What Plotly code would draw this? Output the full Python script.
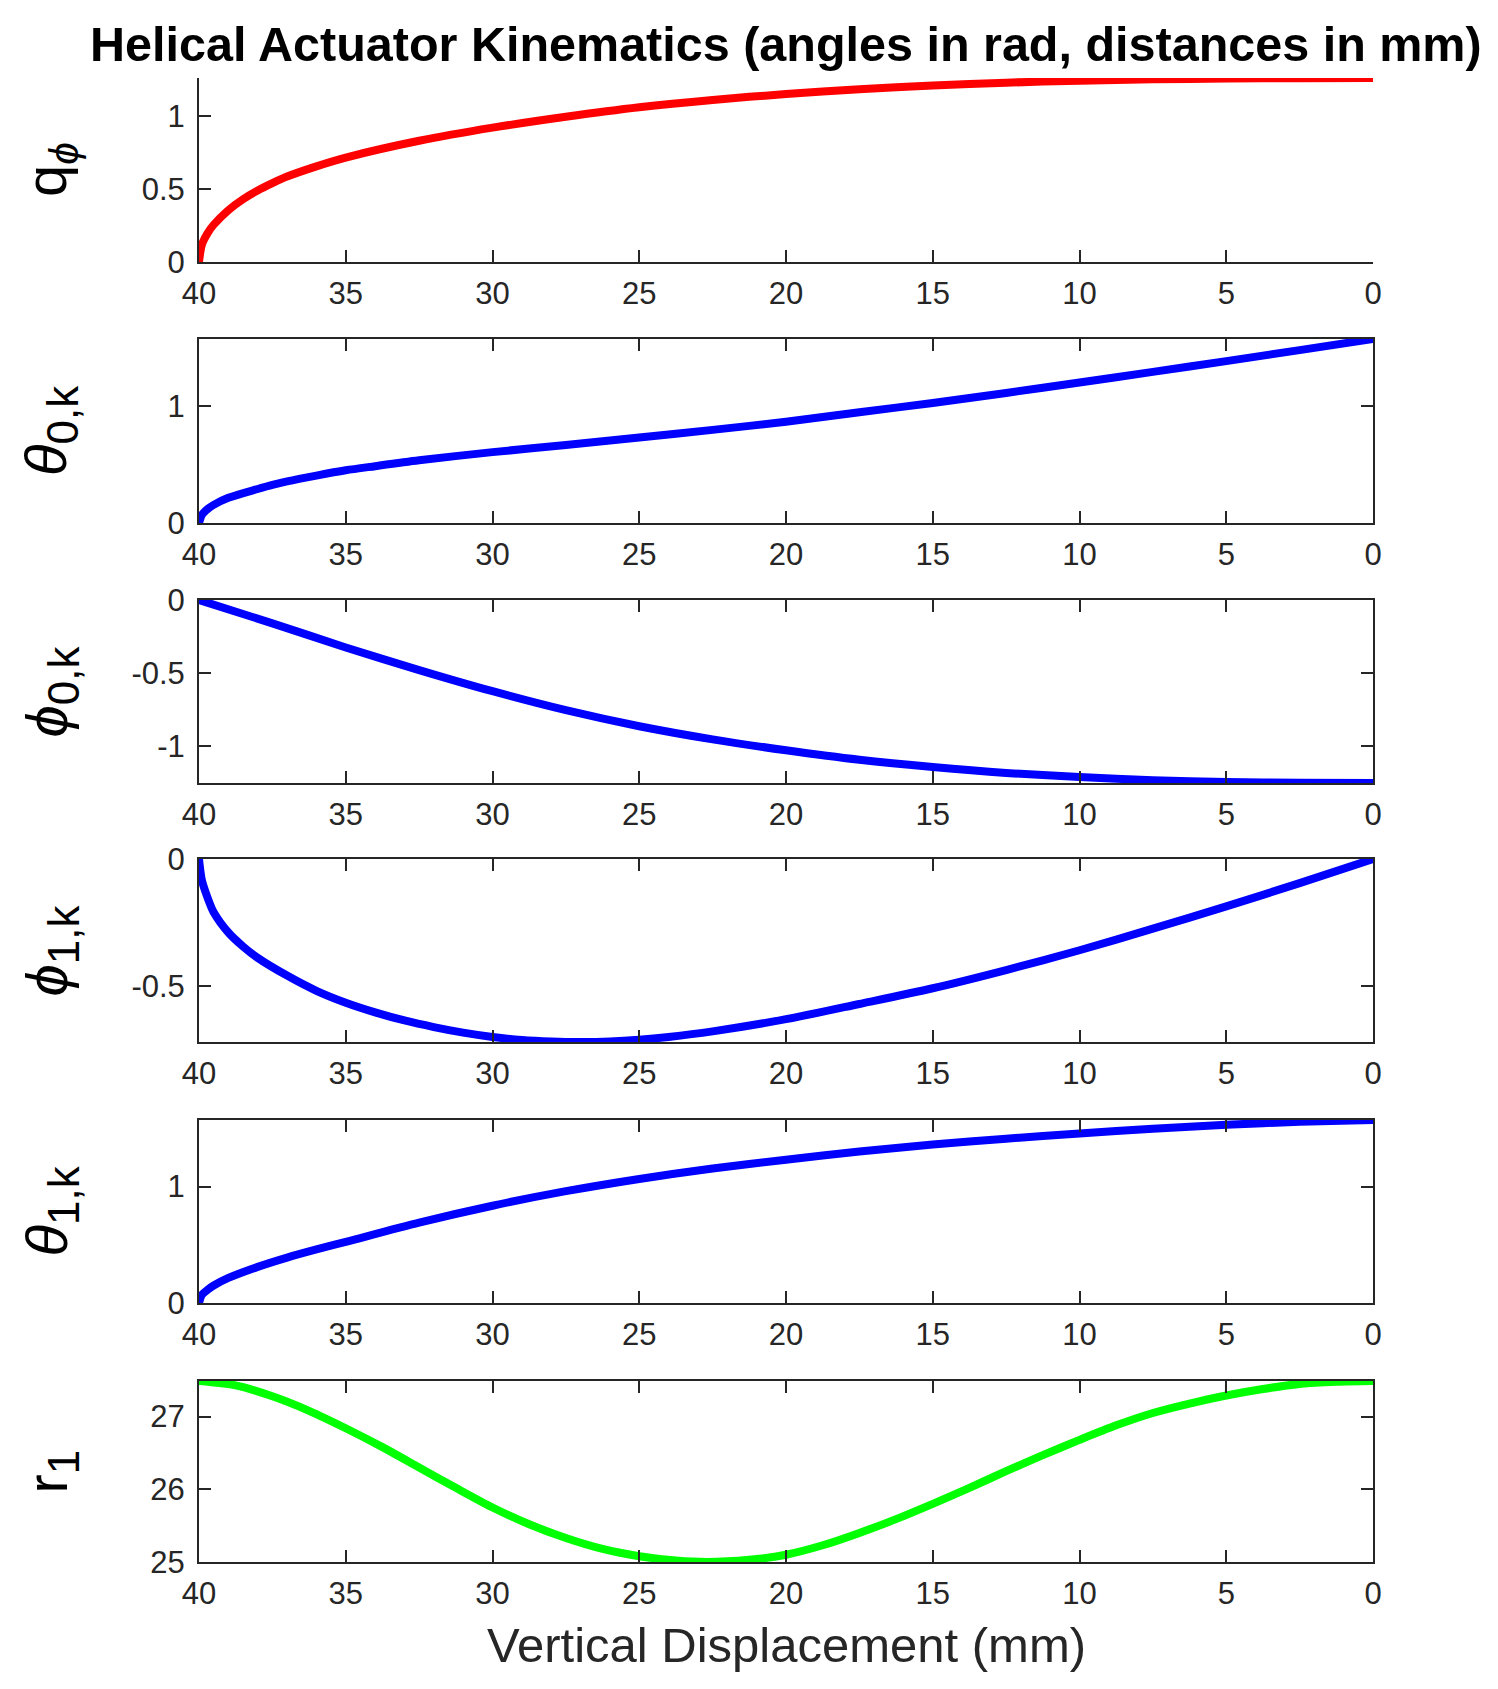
import plotly.graph_objects as go

W, H = 1498, 1689

# ---------------- data ----------------
x_q = [40, 39.9, 39.7, 39.5, 39, 38.5, 38, 37.5, 37, 36, 35, 32.5, 30, 27.5, 25, 22.5, 20, 17.5, 15, 12.5, 10, 7.5, 5, 2.5, 0]
q_phi = [0, 0.12, 0.2, 0.255, 0.355, 0.43, 0.49, 0.54, 0.585, 0.655, 0.715, 0.83, 0.92, 0.995, 1.06, 1.11, 1.15, 1.183, 1.208, 1.228, 1.242, 1.251, 1.256, 1.259, 1.26]

x_t0 = [40, 39.9, 39.7, 39.5, 39, 38, 37.5, 37, 36, 35, 34, 32.5, 30, 27.5, 25, 22.5, 20, 17.5, 15, 12.5, 10, 7.5, 5, 2.5, 0]
theta_0k = [0, 0.07, 0.12, 0.155, 0.215, 0.29, 0.325, 0.355, 0.405, 0.45, 0.485, 0.535, 0.605, 0.665, 0.73, 0.795, 0.865, 0.945, 1.025, 1.11, 1.2, 1.29, 1.382, 1.476, 1.5708]

x_p0 = [40, 37.5, 35, 32.5, 30, 27.5, 25, 22.5, 20, 17.5, 15, 12.5, 10, 7.5, 5, 2.5, 0]
phi_0k = [0, -0.16, -0.325, -0.48, -0.625, -0.755, -0.865, -0.955, -1.03, -1.095, -1.145, -1.185, -1.213, -1.235, -1.247, -1.253, -1.254]

x_p1 = [40, 39.95, 39.9, 39.7, 39.5, 39, 38.5, 38, 37, 36, 35, 34, 33, 32, 31, 30, 29, 28, 27, 26, 25, 24, 22.5, 20, 17.5, 15, 12.5, 10, 7.5, 5, 2.5, 0]
phi_1k = [0, -0.05, -0.085, -0.155, -0.21, -0.29, -0.345, -0.39, -0.46, -0.52, -0.567, -0.605, -0.637, -0.663, -0.685, -0.702, -0.714, -0.72, -0.722, -0.72, -0.713, -0.702, -0.68, -0.632, -0.572, -0.51, -0.438, -0.36, -0.275, -0.187, -0.095, 0]

x_t1 = [40, 39.9, 39.7, 39.5, 39, 38, 37, 36, 35, 32.5, 30, 27.5, 25, 22.5, 20, 17.5, 15, 12.5, 10, 7.5, 5, 2.5, 0]
theta_1k = [0, 0.07, 0.115, 0.15, 0.215, 0.31, 0.39, 0.46, 0.525, 0.69, 0.835, 0.96, 1.065, 1.155, 1.23, 1.3, 1.36, 1.41, 1.455, 1.495, 1.53, 1.555, 1.5708]

x_r = [40, 38.75, 37.5, 36.25, 35, 33.75, 32.5, 31.25, 30, 28.75, 27.5, 26.25, 25, 23.75, 22.7, 21.25, 20, 18.75, 17.5, 16.25, 15, 13.75, 12.5, 11.25, 10, 8.75, 7.5, 6.25, 5, 3.75, 2.5, 1.25, 0]
r_1 = [27.49, 27.43, 27.28, 27.08, 26.84, 26.58, 26.3, 26.02, 25.75, 25.52, 25.33, 25.18, 25.08, 25.02, 25.0, 25.03, 25.1, 25.23, 25.4, 25.59, 25.8, 26.02, 26.25, 26.47, 26.68, 26.88, 27.05, 27.18, 27.29, 27.38, 27.45, 27.48, 27.49]

x_ticks = [40, 35, 30, 25, 20, 15, 10, 5, 0]
x_ticktext = ["40", "35", "30", "25", "20", "15", "10", "5", "0"]

SUB = "<span style='font-size:44px'>{}</span>"
panels = [
    dict(x=x_q, y=q_phi, color="#FF0000", rng=[0, 1.26], tv=[0, 0.5, 1], tt=["0", "0.5", "1"],
         label="q<sub><i>ϕ</i></sub>", box=False),
    dict(x=x_t0, y=theta_0k, color="#0000FF", rng=[0, 1.5708], tv=[0, 1], tt=["0", "1"],
         label="<i>θ</i><sub>" + SUB.format("0,k") + "</sub>", box=True),
    dict(x=x_p0, y=phi_0k, color="#0000FF", rng=[-1.254, 0], tv=[-1, -0.5, 0], tt=["-1", "-0.5", "0"],
         label="<i>ϕ</i><sub>" + SUB.format("0,k") + "</sub>", box=True),
    dict(x=x_p1, y=phi_1k, color="#0000FF", rng=[-0.722, 0], tv=[-0.5, 0], tt=["-0.5", "0"],
         label="<i>ϕ</i><sub>" + SUB.format("1,k") + "</sub>", box=True),
    dict(x=x_t1, y=theta_1k, color="#0000FF", rng=[0, 1.5708], tv=[0, 1], tt=["0", "1"],
         label="<i>θ</i><sub>" + SUB.format("1,k") + "</sub>", box=True),
    dict(x=x_r, y=r_1, color="#00FF00", rng=[25.0, 27.49], tv=[25, 26, 27], tt=["25", "26", "27"],
         label="r<sub>" + SUB.format("1") + "</sub>", box=True),
]

# ---------------- layout geometry (pixels) ----------------
plot_left, plot_right = 199, 1373
panel_px = [(78, 262), (339, 523), (600, 783), (859, 1042), (1120, 1303), (1381, 1562)]

FONT = "Liberation Sans, Arial, sans-serif"
AX = "#262626"

fig = go.Figure()
layout = dict(
    width=W, height=H,
    margin=dict(l=0, r=0, t=0, b=0, autoexpand=False),
    paper_bgcolor="white", plot_bgcolor="white",
    showlegend=False,
    font=dict(family=FONT, color=AX, size=31),
)

annotations = []
for i, p in enumerate(panels):
    n = i + 1
    xa = "x" if n == 1 else f"x{n}"
    ya = "y" if n == 1 else f"y{n}"
    fig.add_trace(go.Scatter(
        x=p["x"], y=p["y"], mode="lines",
        line=dict(color=p["color"], width=8, shape="spline", smoothing=0.8),
        xaxis=xa, yaxis=ya, hoverinfo="skip",
    ))
    top, bot = panel_px[i]
    ydom = [1 - bot / H, 1 - top / H]
    xdom = [plot_left / W, plot_right / W]
    mirror = "ticks" if p["box"] else False
    layout["xaxis" if n == 1 else f"xaxis{n}"] = dict(
        domain=xdom, anchor=ya, range=[40, 0], tickvals=x_ticks, ticktext=x_ticktext,
        ticks="inside", ticklen=12, tickwidth=2, tickcolor=AX,
        showline=True, linecolor=AX, linewidth=2, mirror=mirror,
        showgrid=False, zeroline=False, automargin=False,
        tickfont=dict(family=FONT, size=31, color=AX), ticklabelstandoff=3,
    )
    layout["yaxis" if n == 1 else f"yaxis{n}"] = dict(
        domain=ydom, anchor=xa, range=p["rng"], tickvals=p["tv"], ticktext=p["tt"],
        ticks="inside", ticklen=12, tickwidth=2, tickcolor=AX,
        showline=True, linecolor=AX, linewidth=2, mirror=mirror,
        showgrid=False, zeroline=False, automargin=False,
        tickfont=dict(family=FONT, size=31, color=AX), ticklabelstandoff=6,
    )
    annotations.append(dict(
        xref="paper", yref="paper", x=50 / W, y=1 - (top + bot) / 2 / H,
        xanchor="center", yanchor="middle", textangle=-90, showarrow=False,
        text=p["label"], font=dict(family=FONT, size=58, color="black"),
    ))

annotations.append(dict(
    xref="paper", yref="paper", x=786 / W, y=1 - 44 / H,
    xanchor="center", yanchor="middle", showarrow=False,
    text="<b>Helical Actuator Kinematics (angles in rad, distances in mm)</b>",
    font=dict(family=FONT, size=48.5, color="black"),
))
annotations.append(dict(
    xref="paper", yref="paper", x=786 / W, y=1 - 1645 / H,
    xanchor="center", yanchor="middle", showarrow=False,
    text="Vertical Displacement (mm)",
    font=dict(family=FONT, size=49, color=AX),
))
layout["annotations"] = annotations

fig.update_layout(**layout)
fig.write_html("out.html", config={"displayModeBar": False},
               post_script="document.body.style.margin='0px';")
